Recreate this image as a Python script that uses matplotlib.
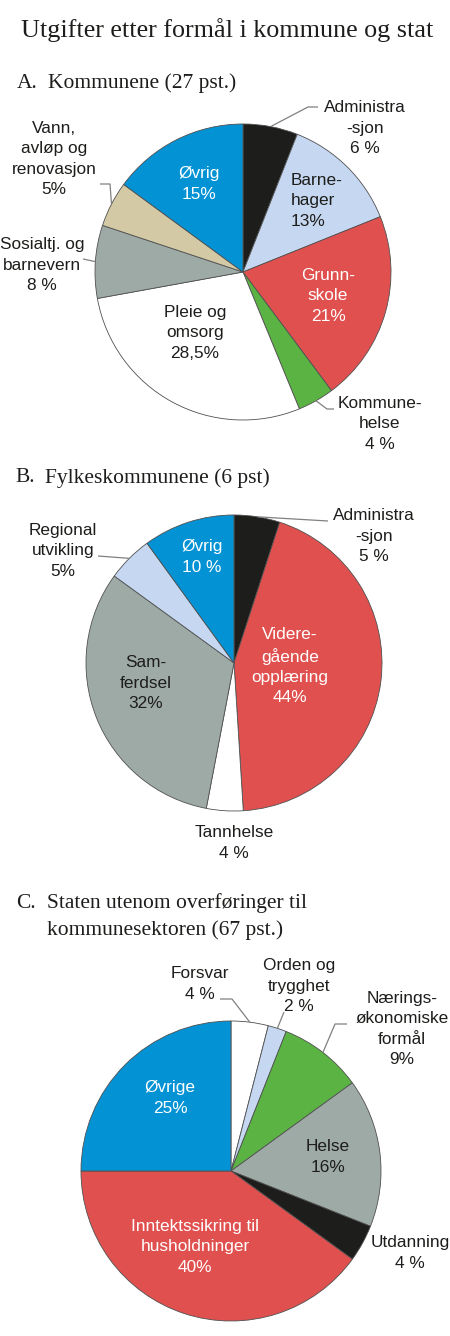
import numpy as np
import matplotlib.pyplot as plt

# Utgifter etter formål - tre kakediagram (kommunene, fylkeskommunene, staten)

H = 1336  # høyde i piksler, brukes for å snu y-aksen

SVART = '#1d1d1b'
LYSBLA = '#c6d8f1'
ROD = '#e0504e'
GRONN = '#5bb343'
HVIT = '#ffffff'
GRA = '#9eaaa6'
BEIGE = '#d3caa5'
BLA = '#0392d3'

# A. Kommunene
a_names = ["Administra\n-sjon", "Barne-\nhager", "Grunn-\nskole", "Kommune-\nhelse",
           "Pleie og\nomsorg", "Sosialtj. og\nbarnevern", "Vann,\navløp og\nrenovasjon", "Øvrig"]
a_pct = ["6 %", "13%", "21%", "4 %", "28,5%", "8 %", "5%", "15%"]
a_values = [6, 13, 21, 4, 28.5, 8, 5, 15]
a_colors = [SVART, LYSBLA, ROD, GRONN, HVIT, GRA, BEIGE, BLA]

# B. Fylkeskommunene
b_names = ["Administra\n-sjon", "Videre-\ngående\nopplæring", "Tannhelse", "Sam-\nferdsel",
           "Regional\nutvikling", "Øvrig"]
b_pct = ["5 %", "44%", "4 %", "32%", "5%", "10 %"]
b_values = [5, 44, 4, 32, 5, 10]
b_colors = [SVART, ROD, HVIT, GRA, LYSBLA, BLA]

# C. Staten
c_names = ["Forsvar", "Orden og\ntrygghet", "Nærings-\nøkonomiske\nformål", "Helse",
           "Utdanning", "Inntektssikring til\nhusholdninger", "Øvrige"]
c_pct = ["4 %", "2 %", "9%", "16%", "4 %", "40%", "25%"]
c_values = [4, 2, 9, 16, 4, 40, 25]
c_colors = [HVIT, LYSBLA, GRONN, GRA, SVART, ROD, BLA]

plt.rcParams['font.family'] = ['Liberation Sans', 'DejaVu Sans']

fig = plt.figure(figsize=(4.5, 13.36), dpi=100)
ax = fig.add_axes([0, 0, 1, 1])


def tegn_kake(values, colors, cx, cy, r):
    ax.pie(values, colors=colors, startangle=90, counterclock=False,
           center=(cx, H - cy), radius=r,
           wedgeprops=dict(edgecolor='#505050', linewidth=0.6))


def kantpunkt(values, i, cx, cy, r):
    # punkt på kanten midt i sektor i (pikselkoordinater)
    v = np.array(values, dtype=float)
    frac = (v[:i].sum() + v[i] / 2) / v.sum()
    th = np.deg2rad(90 - 360 * frac)
    return cx + r * np.cos(th), cy - r * np.sin(th)


def etikett(x, y, tekst, farge=SVART, ha='center'):
    ax.text(x, H - y, tekst, ha=ha, va='center', ma=ha, fontsize=12.4,
            color=farge, linespacing=1.42)


def linje(punkter):
    xs = [p[0] for p in punkter]
    ys = [H - p[1] for p in punkter]
    ax.plot(xs, ys, color='#808080', lw=0.9, solid_capstyle='butt')


def overskrift(x, y, tekst, size):
    ax.text(x, H - y, tekst, ha='left', va='center', fontsize=size,
            family=['Liberation Serif', 'DejaVu Serif'], color=SVART)


# Tittel
ax.text(227, H - 30, "Utgifter etter formål i kommune og stat", ha='center', va='center',
        fontsize=18.8, family=['Liberation Serif', 'DejaVu Serif'], color=SVART)

# ---- A ----
acx, acy, ar = 243, 272, 148
overskrift(17, 83, "A.", 15.5)
overskrift(48, 83, "Kommunene (27 pst.)", 15.5)
tegn_kake(a_values, a_colors, acx, acy, ar)
a_pos = [(365, 128, 'center'), (291, 201, 'left'), (328, 296, 'center'), (380, 424, 'center'),
         (195, 333, 'center'), (42, 265, 'center'), (54, 159, 'center'), (199, 184, 'center')]
a_txtcol = [SVART, SVART, HVIT, SVART, SVART, SVART, SVART, HVIT]
for i in range(len(a_values)):
    x, y, ha = a_pos[i]
    etikett(x, y, a_names[i] + "\n" + a_pct[i], a_txtcol[i], ha)
linje([kantpunkt(a_values, 0, acx, acy, ar), (308, 107), (318, 107)])
linje([kantpunkt(a_values, 3, acx, acy, ar), (327, 409), (334, 409)])
linje([kantpunkt(a_values, 5, acx, acy, ar), (83, 259)])
linje([kantpunkt(a_values, 6, acx, acy, ar), (110, 184), (100, 184)])

# ---- B ----
bcx, bcy, br = 234, 663, 148
overskrift(15, 478, "B.", 15.5)
overskrift(45, 478, "Fylkeskommunene (6 pst)", 15.5)
tegn_kake(b_values, b_colors, bcx, bcy, br)
b_pos = [(374, 536, 'center'), (290, 666, 'center'), (234, 843, 'center'),
         (146, 683, 'center'), (63, 551, 'center'), (202, 557, 'center')]
b_txtcol = [SVART, HVIT, SVART, SVART, SVART, HVIT]
for i in range(len(b_values)):
    x, y, ha = b_pos[i]
    etikett(x, y, b_names[i] + "\n" + b_pct[i], b_txtcol[i], ha)
linje([kantpunkt(b_values, 0, bcx, bcy, br), (328, 521)])
linje([kantpunkt(b_values, 4, bcx, bcy, br), (98, 556)])

# ---- C ----
ccx, ccy, cr = 231, 1171, 150
overskrift(16, 903, "C.", 15.5)
overskrift(47, 903, "Staten utenom overføringer til", 15.5)
overskrift(47, 930, "kommunesektoren (67 pst.)", 15.5)
tegn_kake(c_values, c_colors, ccx, ccy, cr)
c_pos = [(200, 984, 'center'), (299, 986, 'center'), (402, 1029, 'center'),
         (328, 1157, 'center'), (410, 1253, 'center'), (195, 1247, 'center'),
         (170, 1098, 'center')]
c_txtcol = [SVART, SVART, SVART, SVART, SVART, HVIT, HVIT]
for i in range(len(c_values)):
    x, y, ha = c_pos[i]
    etikett(x, y, c_names[i] + "\n" + c_pct[i], c_txtcol[i], ha)
linje([(220, 999), (232, 999), kantpunkt(c_values, 0, ccx, ccy, cr)])
linje([(284, 1012), kantpunkt(c_values, 1, ccx, ccy, cr)])
linje([(347, 1024), (335, 1024), kantpunkt(c_values, 2, ccx, ccy, cr)])

ax.set_xlim(0, 450)
ax.set_ylim(0, H)
ax.set_aspect('auto')
ax.axis('off')

fig.savefig('out.png', dpi=100)
